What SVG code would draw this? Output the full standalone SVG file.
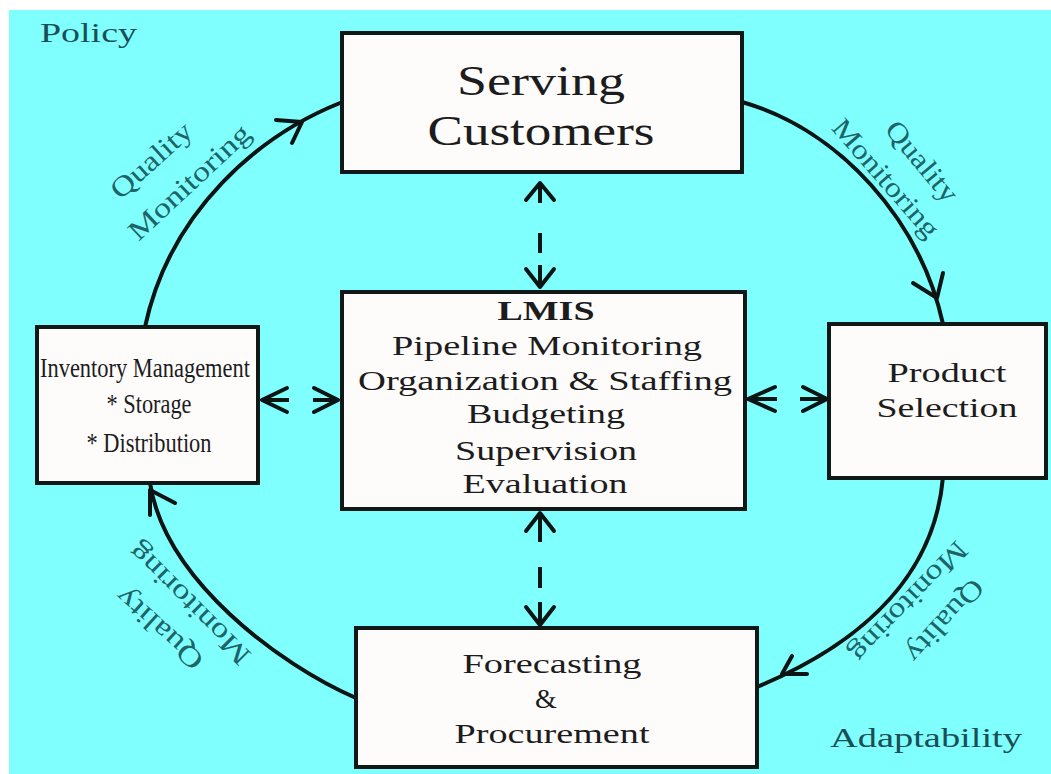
<svg xmlns="http://www.w3.org/2000/svg" width="1051" height="774" viewBox="0 0 1051 774">
  <style>
    .box { fill: #fefbfb; stroke: #101818; stroke-width: 4; }
    .txt { font-family: "Liberation Serif", "Times New Roman", serif; fill: #1c1c1c; text-anchor: middle; }
    .lbl { font-family: "Liberation Serif", "Times New Roman", serif; fill: #1d6469; font-size: 28px; text-anchor: middle; }
    .corner { font-family: "Liberation Serif", "Times New Roman", serif; fill: #1a4e55; font-size: 27px; }
    .flow { fill: none; stroke: #0c1414; stroke-width: 4; stroke-linecap: round; }
    .head { fill: none; stroke: #0c1414; stroke-width: 4; stroke-linecap: round; stroke-linejoin: round; }
    .dash { fill: none; stroke: #0c1414; stroke-width: 4; stroke-linecap: butt; }
  </style>

  <!-- backdrop -->
  <rect x="0" y="0" width="1051" height="774" fill="#ffffff"/>
  <rect x="9" y="10" width="1042" height="764" fill="#80ffff"/>

  <!-- corner captions -->
  <text class="corner" x="40" y="42" textLength="97" lengthAdjust="spacingAndGlyphs">Policy</text>
  <text class="corner" x="830" y="747" textLength="192" lengthAdjust="spacingAndGlyphs">Adaptability</text>

  <!-- cycle and link connectors -->
  <g id="connectors">
    <!-- outer cycle -->
    <path class="flow" d="M145,327 C170,210 260,135 340,103"/>
    <polyline class="head" points="276,120 302,122 292,143"/>
    <path class="flow" d="M742,102 C840,130 920,220 943,324"/>
    <polyline class="head" points="913,283 937,298 943,273"/>
    <path class="flow" d="M943,477 C935,570 870,640 757,687"/>
    <polyline class="head" points="807,674 782,674 792,656"/>
    <path class="flow" d="M356,698 C280,665 165,580 150,483"/>
    <polyline class="head" points="175,503 150,490 150,515"/>

    <!-- Serving Customers <-> LMIS -->
    <line class="dash" x1="540" y1="183" x2="540" y2="203"/>
    <line class="dash" x1="540" y1="233" x2="540" y2="253"/>
    <line class="dash" x1="540" y1="265" x2="540" y2="287"/>
    <polyline class="head" points="526,200 540,183 554,200"/>
    <polyline class="head" points="526,269 540,287 554,269"/>

    <!-- LMIS <-> Forecasting -->
    <line class="dash" x1="540" y1="513" x2="540" y2="542"/>
    <line class="dash" x1="540" y1="567" x2="540" y2="588"/>
    <line class="dash" x1="540" y1="602" x2="540" y2="625"/>
    <polyline class="head" points="526,531 540,513 554,531"/>
    <polyline class="head" points="526,607 540,625 554,607"/>

    <!-- Inventory <-> LMIS -->
    <line class="dash" x1="262" y1="400" x2="289" y2="400"/>
    <line class="dash" x1="313" y1="400" x2="338" y2="400"/>
    <polyline class="head" points="287,388 262,400 287,412"/>
    <polyline class="head" points="314,388 338,400 314,412"/>

    <!-- LMIS <-> Product Selection -->
    <line class="dash" x1="748" y1="399" x2="777" y2="399"/>
    <line class="dash" x1="800" y1="399" x2="827" y2="399"/>
    <polyline class="head" points="775,387 748,399 775,411"/>
    <polyline class="head" points="803,387 827,399 803,411"/>
  </g>

  <!-- arc captions -->
  <g id="arc-labels">
    <g transform="translate(152,161) rotate(-42)"><text class="lbl" x="0" y="8" textLength="100" lengthAdjust="spacingAndGlyphs">Quality</text></g>
    <g transform="translate(190,183) rotate(-43)"><text class="lbl" x="0" y="8" textLength="156" lengthAdjust="spacingAndGlyphs">Monitoring</text></g>
    <g transform="translate(921,162) rotate(50)"><text class="lbl" x="0" y="8" textLength="97" lengthAdjust="spacingAndGlyphs">Quality</text></g>
    <g transform="translate(885,179) rotate(49)"><text class="lbl" x="0" y="8" textLength="148" lengthAdjust="spacingAndGlyphs">Monitoring</text></g>
    <g transform="translate(944,620) rotate(132)"><text class="lbl" x="0" y="8" textLength="102" lengthAdjust="spacingAndGlyphs">Quality</text></g>
    <g transform="translate(908,601) rotate(134)"><text class="lbl" x="0" y="8" textLength="156" lengthAdjust="spacingAndGlyphs">Monitoring</text></g>
    <g transform="translate(160,628) rotate(222)"><text class="lbl" x="0" y="8" textLength="108" lengthAdjust="spacingAndGlyphs">Quality</text></g>
    <g transform="translate(190,603) rotate(225)"><text class="lbl" x="0" y="8" textLength="160" lengthAdjust="spacingAndGlyphs">Monitoring</text></g>
  </g>

  <g id="serving-customers">
    <rect class="box" x="342" y="33" width="400" height="139"/>
    <text class="txt" x="541" y="95" font-size="42" textLength="168" lengthAdjust="spacingAndGlyphs">Serving</text>
    <text class="txt" x="541" y="145" font-size="42" textLength="227" lengthAdjust="spacingAndGlyphs">Customers</text>
  </g>

  <g id="lmis">
    <rect class="box" x="342" y="292" width="403" height="217"/>
    <text class="txt" x="546" y="320" font-size="27" font-weight="bold" textLength="97" lengthAdjust="spacingAndGlyphs">LMIS</text>
    <text class="txt" x="547" y="355" font-size="28" textLength="310" lengthAdjust="spacingAndGlyphs">Pipeline Monitoring</text>
    <text class="txt" x="545" y="390" font-size="28" textLength="374" lengthAdjust="spacingAndGlyphs">Organization &amp; Staffing</text>
    <text class="txt" x="546" y="423" font-size="28" textLength="158" lengthAdjust="spacingAndGlyphs">Budgeting</text>
    <text class="txt" x="546" y="460" font-size="28" textLength="182" lengthAdjust="spacingAndGlyphs">Supervision</text>
    <text class="txt" x="545" y="493" font-size="28" textLength="165" lengthAdjust="spacingAndGlyphs">Evaluation</text>
  </g>

  <g id="inventory-management">
    <rect class="box" x="37" y="327" width="221" height="156"/>
    <text class="txt" x="145" y="377" font-size="28" textLength="210" lengthAdjust="spacingAndGlyphs">Inventory Management</text>
    <text class="txt" x="149" y="413" font-size="28" textLength="85" lengthAdjust="spacingAndGlyphs">* Storage</text>
    <text class="txt" x="149" y="452" font-size="28" textLength="125" lengthAdjust="spacingAndGlyphs">* Distribution</text>
  </g>

  <g id="product-selection">
    <rect class="box" x="829" y="324" width="217" height="154"/>
    <text class="txt" x="947" y="382" font-size="28" textLength="119" lengthAdjust="spacingAndGlyphs">Product</text>
    <text class="txt" x="947" y="417" font-size="28" textLength="141" lengthAdjust="spacingAndGlyphs">Selection</text>
  </g>

  <g id="forecasting-procurement">
    <rect class="box" x="356" y="628" width="401" height="139"/>
    <text class="txt" x="552" y="673" font-size="28" textLength="179" lengthAdjust="spacingAndGlyphs">Forecasting</text>
    <text class="txt" x="546" y="708" font-size="28">&amp;</text>
    <text class="txt" x="552" y="743" font-size="28" textLength="195" lengthAdjust="spacingAndGlyphs">Procurement</text>
  </g>
</svg>
